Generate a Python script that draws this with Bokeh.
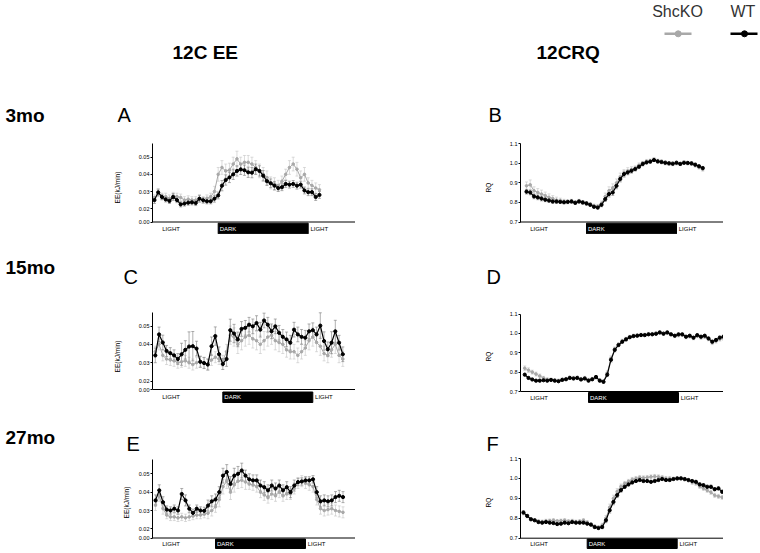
import numpy as np
from bokeh.plotting import figure
from bokeh.layouts import column, row
from bokeh.models import (Range1d, LinearAxis, FixedTicker, Whisker, TeeHead,
                          ColumnDataSource, Span, Label)
from bokeh.core.properties import value
from bokeh.embed import file_html
from bokeh.resources import INLINE

FONT = "Liberation Sans"

# ---------------- data (hours relative to lights-off; dark phase 0..12 h) ----------------
DARK_START, DARK_END = 0.0, 12.0
SERIES = ["ShcKO", "WT"]
EE_TICKS = [0.02, 0.03, 0.04, 0.05]
EE_TICK_LABELS = ["0.00", "0.02", "0.03", "0.04", "0.05"]
RQ_TICKS = [0.7, 0.8, 0.9, 1.0, 1.1]
RQ_TICK_LABELS = ["0.7", "0.8", "0.9", "1.0", "1.1"]

# Panel A: 3mo EE
t_A = np.arange(-8.5, 13.51, 0.5)
wt_A = [0.025, 0.0295, 0.0268, 0.0254, 0.0245, 0.0268, 0.025, 0.0225, 0.023, 0.0235,
        0.0237, 0.0233, 0.0258, 0.0249, 0.0243, 0.0243, 0.0258, 0.0277, 0.0334, 0.0367,
        0.0382, 0.040, 0.042, 0.0429, 0.0424, 0.0412, 0.041, 0.043, 0.042, 0.0392,
        0.036, 0.0348, 0.0334, 0.032, 0.0325, 0.0344, 0.034, 0.0344, 0.0334, 0.034,
        0.0306, 0.0296, 0.0296, 0.0268, 0.028]
ko_A = [0.026, 0.029, 0.027, 0.027, 0.026, 0.0275, 0.027, 0.0265, 0.025, 0.0255,
        0.025, 0.025, 0.026, 0.025, 0.026, 0.027, 0.030, 0.040, 0.044, 0.042,
        0.0425, 0.046, 0.049, 0.046, 0.047, 0.047, 0.046, 0.044, 0.042, 0.040,
        0.038, 0.035, 0.0345, 0.0335, 0.036, 0.040, 0.044, 0.046, 0.043, 0.038,
        0.040, 0.035, 0.0335, 0.032, 0.031]
wt_err_A = [0.002, 0.002, 0.0015, 0.0015, 0.0015, 0.002, 0.0015, 0.0015, 0.0015, 0.0015,
            0.0015, 0.0015, 0.002, 0.0015, 0.0015, 0.0015, 0.002, 0.002, 0.003, 0.003,
            0.003, 0.003, 0.003, 0.003, 0.003, 0.003, 0.003, 0.003, 0.003, 0.003,
            0.0025, 0.0025, 0.0025, 0.002, 0.002, 0.002, 0.002, 0.002, 0.002, 0.002,
            0.002, 0.002, 0.002, 0.002, 0.002]
ko_err_A = [0.002, 0.002, 0.002, 0.002, 0.002, 0.002, 0.002, 0.002, 0.002, 0.002,
            0.002, 0.002, 0.002, 0.002, 0.002, 0.002, 0.003, 0.004, 0.004, 0.004,
            0.004, 0.004, 0.0045, 0.004, 0.004, 0.004, 0.004, 0.004, 0.004, 0.004,
            0.004, 0.0035, 0.0035, 0.003, 0.003, 0.003, 0.004, 0.004, 0.004, 0.004,
            0.004, 0.003, 0.003, 0.003, 0.003]

# Panel B: 3mo RQ
t_B = np.arange(-8.0, 15.51, 0.5)
wt_B = [0.855, 0.851, 0.831, 0.826, 0.820, 0.814, 0.810, 0.805, 0.805, 0.803,
        0.801, 0.803, 0.805, 0.798, 0.805, 0.800, 0.795, 0.788, 0.778, 0.774,
        0.788, 0.817, 0.843, 0.851, 0.885, 0.920, 0.945, 0.954, 0.962, 0.971,
        0.983, 0.997, 1.005, 1.009, 1.017, 1.010, 1.007, 1.003, 1.000, 0.998,
        1.003, 0.997, 1.003, 1.002, 1.000, 0.993, 0.985, 0.976]
ko_B = [0.885, 0.890, 0.860, 0.851, 0.843, 0.835, 0.826, 0.820, 0.812, 0.810,
        0.806, 0.803, 0.806, 0.800, 0.806, 0.800, 0.795, 0.790, 0.782, 0.780,
        0.795, 0.830, 0.860, 0.875, 0.900, 0.930, 0.950, 0.960, 0.968, 0.975,
        0.990, 1.000, 1.010, 1.012, 1.020, 1.012, 1.008, 1.002, 1.000, 0.998,
        1.000, 0.998, 1.004, 1.000, 0.998, 0.990, 0.980, 0.970]
wt_err_B = [0.012, 0.012, 0.012, 0.012, 0.012, 0.010, 0.010, 0.010, 0.010, 0.008,
            0.008, 0.008, 0.008, 0.008, 0.008, 0.008, 0.008, 0.008, 0.008, 0.008,
            0.010, 0.012, 0.015, 0.015, 0.015, 0.015, 0.015, 0.012, 0.012, 0.010,
            0.010, 0.010, 0.008, 0.008, 0.008, 0.008, 0.008, 0.008, 0.008, 0.008,
            0.008, 0.008, 0.008, 0.008, 0.008, 0.008, 0.008, 0.008]
ko_err_B = [0.020, 0.025, 0.020, 0.020, 0.020, 0.018, 0.018, 0.015, 0.015, 0.012,
            0.010, 0.010, 0.010, 0.010, 0.010, 0.010, 0.010, 0.010, 0.010, 0.010,
            0.012, 0.018, 0.020, 0.020, 0.020, 0.020, 0.018, 0.018, 0.015, 0.012,
            0.012, 0.010, 0.010, 0.010, 0.010, 0.010, 0.010, 0.010, 0.010, 0.010,
            0.008, 0.008, 0.008, 0.008, 0.008, 0.010, 0.010, 0.010]

# Panel C: 15mo EE
t_C = np.arange(-9.0, 16.01, 0.5)
wt_C = [0.034, 0.0454, 0.041, 0.0364, 0.0352, 0.034, 0.032, 0.0346, 0.037, 0.0388,
        0.039, 0.0377, 0.0305, 0.0298, 0.029, 0.039, 0.0445, 0.0346, 0.0293, 0.032,
        0.0477, 0.0459, 0.0427, 0.0484, 0.049, 0.0507, 0.0498, 0.0516, 0.048, 0.053,
        0.0507, 0.0471, 0.0498, 0.0463, 0.0441, 0.0427, 0.0409, 0.048, 0.0454, 0.0441,
        0.0436, 0.0471, 0.0477, 0.0454, 0.0502, 0.0418, 0.0373, 0.0409, 0.0471, 0.0409,
        0.0346]
ko_C = [0.036, 0.040, 0.034, 0.032, 0.0315, 0.031, 0.030, 0.0305, 0.031, 0.030,
        0.029, 0.030, 0.0305, 0.030, 0.029, 0.0315, 0.033, 0.032, 0.031, 0.036,
        0.045, 0.044, 0.040, 0.042, 0.044, 0.045, 0.043, 0.042, 0.040, 0.042,
        0.044, 0.045, 0.042, 0.041, 0.040, 0.037, 0.036, 0.036, 0.034, 0.036,
        0.038, 0.042, 0.044, 0.041, 0.039, 0.035, 0.034, 0.037, 0.040, 0.034,
        0.032]
wt_err_C = [0.004, 0.004, 0.004, 0.003, 0.003, 0.003, 0.003, 0.006, 0.005, 0.008,
            0.008, 0.004, 0.003, 0.003, 0.003, 0.005, 0.005, 0.004, 0.003, 0.004,
            0.006, 0.005, 0.004, 0.004, 0.004, 0.004, 0.004, 0.004, 0.004, 0.004,
            0.004, 0.004, 0.004, 0.004, 0.004, 0.004, 0.004, 0.004, 0.004, 0.004,
            0.004, 0.004, 0.004, 0.004, 0.007, 0.005, 0.004, 0.006, 0.006, 0.004,
            0.004]
ko_err_C = [0.003, 0.003, 0.003, 0.003, 0.003, 0.003, 0.003, 0.003, 0.003, 0.003,
            0.003, 0.003, 0.003, 0.003, 0.003, 0.003, 0.003, 0.003, 0.003, 0.004,
            0.005, 0.005, 0.005, 0.005, 0.005, 0.005, 0.005, 0.005, 0.005, 0.005,
            0.005, 0.005, 0.005, 0.005, 0.005, 0.004, 0.004, 0.004, 0.004, 0.004,
            0.004, 0.005, 0.005, 0.005, 0.005, 0.004, 0.004, 0.004, 0.005, 0.004,
            0.004]

# Panel D: 15mo RQ
t_D = np.arange(-8.5, 18.01, 0.5)
wt_D = [0.787, 0.770, 0.762, 0.756, 0.756, 0.758, 0.756, 0.760, 0.756, 0.753,
        0.760, 0.763, 0.770, 0.767, 0.770, 0.762, 0.767, 0.756, 0.763, 0.775,
        0.756, 0.750, 0.787, 0.864, 0.915, 0.940, 0.957, 0.969, 0.980, 0.986,
        0.988, 0.991, 0.991, 0.995, 0.995, 0.998, 1.005, 0.998, 1.005, 0.995,
        0.988, 0.995, 0.995, 0.983, 0.988, 0.978, 0.991, 0.983, 0.988, 0.974,
        0.957, 0.966, 0.978, 0.983]
ko_D = [0.820, 0.810, 0.800, 0.790, 0.780, 0.770, 0.762, 0.760, 0.758, 0.756,
        0.762, 0.765, 0.772, 0.770, 0.772, 0.765, 0.770, 0.760, 0.765, 0.772,
        0.758, 0.752, 0.795, 0.870, 0.918, 0.942, 0.960, 0.972, 0.982, 0.988,
        0.990, 0.993, 0.993, 0.997, 0.997, 1.000, 1.003, 1.000, 1.002, 0.995,
        0.986, 0.990, 0.992, 0.980, 0.984, 0.975, 0.986, 0.978, 0.982, 0.970,
        0.952, 0.960, 0.970, 0.975]
wt_err_D = [0.006, 0.006, 0.006, 0.006, 0.006, 0.006, 0.006, 0.006, 0.006, 0.006,
            0.006, 0.006, 0.006, 0.006, 0.006, 0.006, 0.006, 0.006, 0.006, 0.006,
            0.006, 0.008, 0.010, 0.012, 0.010, 0.008, 0.008, 0.008, 0.006, 0.006,
            0.006, 0.006, 0.006, 0.006, 0.006, 0.006, 0.006, 0.006, 0.006, 0.006,
            0.006, 0.006, 0.006, 0.006, 0.006, 0.006, 0.006, 0.006, 0.006, 0.006,
            0.008, 0.008, 0.008, 0.008]
ko_err_D = [0.012, 0.012, 0.010, 0.010, 0.010, 0.008, 0.008, 0.008, 0.008, 0.008,
            0.008, 0.008, 0.008, 0.008, 0.008, 0.008, 0.008, 0.008, 0.008, 0.008,
            0.008, 0.008, 0.012, 0.014, 0.012, 0.010, 0.010, 0.008, 0.008, 0.008,
            0.008, 0.008, 0.008, 0.008, 0.008, 0.008, 0.008, 0.008, 0.008, 0.008,
            0.008, 0.008, 0.008, 0.008, 0.008, 0.008, 0.008, 0.008, 0.008, 0.008,
            0.010, 0.010, 0.010, 0.010]

# Panel E: 27mo EE
t_E = np.arange(-8.0, 17.01, 0.5)
wt_E = [0.0355, 0.041, 0.0345, 0.0305, 0.030, 0.031, 0.030, 0.039, 0.0355, 0.031,
        0.0287, 0.031, 0.030, 0.0298, 0.0327, 0.035, 0.036, 0.040, 0.049, 0.051,
        0.0445, 0.049, 0.050, 0.0518, 0.049, 0.047, 0.0464, 0.0464, 0.0436, 0.0427,
        0.041, 0.0436, 0.042, 0.0436, 0.041, 0.0427, 0.040, 0.0436, 0.0455, 0.0458,
        0.0464, 0.0464, 0.047, 0.040, 0.035, 0.0355, 0.035, 0.0355, 0.0373, 0.038,
        0.0373]
ko_E = [0.033, 0.038, 0.031, 0.0275, 0.0265, 0.0265, 0.026, 0.0265, 0.026, 0.0265,
        0.027, 0.0275, 0.0275, 0.028, 0.0285, 0.030, 0.032, 0.036, 0.043, 0.046,
        0.040, 0.044, 0.046, 0.0465, 0.0455, 0.0445, 0.044, 0.043, 0.040, 0.0385,
        0.037, 0.039, 0.038, 0.040, 0.038, 0.039, 0.039, 0.042, 0.045, 0.046,
        0.045, 0.044, 0.043, 0.036, 0.031, 0.030, 0.0305, 0.031, 0.030, 0.0295,
        0.029]
wt_err_E = [0.003, 0.003, 0.003, 0.002, 0.002, 0.002, 0.002, 0.003, 0.003, 0.002,
            0.002, 0.002, 0.002, 0.002, 0.003, 0.003, 0.003, 0.003, 0.004, 0.004,
            0.004, 0.004, 0.004, 0.004, 0.003, 0.003, 0.003, 0.003, 0.003, 0.003,
            0.003, 0.003, 0.003, 0.003, 0.003, 0.003, 0.003, 0.003, 0.002, 0.002,
            0.002, 0.002, 0.002, 0.003, 0.003, 0.003, 0.003, 0.003, 0.003, 0.003,
            0.003]
ko_err_E = [0.003, 0.003, 0.003, 0.002, 0.002, 0.002, 0.002, 0.002, 0.002, 0.002,
            0.002, 0.002, 0.002, 0.002, 0.003, 0.003, 0.003, 0.004, 0.004, 0.004,
            0.004, 0.004, 0.004, 0.004, 0.004, 0.003, 0.003, 0.003, 0.003, 0.003,
            0.003, 0.003, 0.003, 0.003, 0.003, 0.003, 0.003, 0.003, 0.003, 0.003,
            0.003, 0.003, 0.003, 0.003, 0.003, 0.003, 0.003, 0.003, 0.003, 0.003,
            0.003]

# Panel F: 27mo RQ
t_F = np.arange(-8.5, 18.01, 0.5)
wt_F = [0.829, 0.812, 0.795, 0.790, 0.781, 0.778, 0.781, 0.778, 0.776, 0.771,
        0.773, 0.778, 0.775, 0.781, 0.778, 0.778, 0.778, 0.773, 0.768, 0.756,
        0.751, 0.756, 0.790, 0.840, 0.882, 0.916, 0.941, 0.958, 0.970, 0.980,
        0.987, 0.992, 0.987, 0.987, 0.983, 0.987, 0.992, 0.997, 0.992, 0.992,
        0.997, 1.000, 1.000, 0.997, 0.992, 0.987, 0.983, 0.970, 0.966, 0.958,
        0.958, 0.946, 0.950, 0.933]
ko_F = [0.825, 0.810, 0.795, 0.790, 0.785, 0.783, 0.787, 0.788, 0.790, 0.786,
        0.788, 0.790, 0.785, 0.787, 0.783, 0.785, 0.790, 0.780, 0.770, 0.760,
        0.755, 0.765, 0.800, 0.855, 0.900, 0.935, 0.960, 0.975, 0.985, 0.995,
        1.000, 1.005, 1.003, 1.005, 1.008, 1.010, 1.008, 1.005, 1.000, 1.000,
        0.998, 1.000, 1.002, 0.995, 0.990, 0.980, 0.975, 0.960, 0.950, 0.940,
        0.930, 0.915, 0.910, 0.905]
wt_err_F = [0.008, 0.006, 0.006, 0.006, 0.006, 0.006, 0.006, 0.006, 0.006, 0.006,
            0.006, 0.006, 0.006, 0.006, 0.006, 0.006, 0.006, 0.006, 0.006, 0.006,
            0.006, 0.008, 0.012, 0.014, 0.014, 0.012, 0.010, 0.008, 0.008, 0.008,
            0.006, 0.006, 0.006, 0.006, 0.006, 0.006, 0.006, 0.006, 0.006, 0.006,
            0.006, 0.006, 0.006, 0.006, 0.006, 0.006, 0.006, 0.008, 0.008, 0.008,
            0.008, 0.008, 0.008, 0.008]
ko_err_F = [0.008, 0.008, 0.008, 0.008, 0.008, 0.008, 0.008, 0.008, 0.008, 0.008,
            0.008, 0.008, 0.008, 0.008, 0.008, 0.008, 0.008, 0.008, 0.008, 0.008,
            0.008, 0.010, 0.014, 0.016, 0.016, 0.014, 0.012, 0.010, 0.010, 0.010,
            0.010, 0.010, 0.010, 0.010, 0.010, 0.010, 0.010, 0.010, 0.010, 0.010,
            0.008, 0.008, 0.008, 0.008, 0.008, 0.010, 0.010, 0.010, 0.010, 0.010,
            0.010, 0.010, 0.010, 0.010]

# ---------------- style / layout ----------------
PAGE_W = 760
PX_PER_H = 7.5
FRAME_W = 203
WT_COLOR = "black"
KO_COLOR = "#a8a8a8"
WT_ERR = "#7a7a7a"
KO_ERR = "#c4c4c4"


def header(top, bottom, texts, legend=False):
    # y is measured downward on the page, so store it negated on a normal range
    p = figure(width=PAGE_W, height=bottom - top, x_range=Range1d(0, PAGE_W),
               y_range=Range1d(-bottom, -top), output_backend="svg",
               toolbar_location=None, min_border=0, x_axis_location=None,
               y_axis_location=None, outline_line_color=None)
    p.xgrid.visible = False
    p.ygrid.visible = False
    for (s, x, y, size, bold, color) in texts:
        p.add_layout(Label(x=x, y=-y, text=s, text_font=FONT, text_font_size=size,
                           text_font_style="bold" if bold else "normal",
                           text_color=color, text_baseline="middle",
                           text_align="left"))
    if legend:
        ly = -33.3
        p.segment(x0=[664], y0=[ly], x1=[691], y1=[ly], line_color=KO_COLOR, line_width=2.5)
        p.scatter(x=[677.7], y=[ly], size=6, marker="circle", color=KO_COLOR)
        p.segment(x0=[730], y0=[ly], x1=[757], y1=[ly], line_color=WT_COLOR, line_width=2.5)
        p.scatter(x=[744], y=[ly], size=6, marker="circle", color=WT_COLOR)
    return p


def panel(kind, canvas_left, axis_left, top, bottom, dark_px, v1, p1, v2, p2,
          axis_px, axis_top_px, bar_top, bar_bot, lab_standoff,
          t, wt, wt_err, ko, ko_err):
    border = int(round(axis_left - canvas_left))
    k = (v2 - v1) / (p2 - p1)

    def val(px):
        return v1 + (px - p1) * k

    x0 = -(dark_px - (canvas_left + border)) / PX_PER_H
    p = figure(width=border + FRAME_W, height=bottom - top,
               x_range=Range1d(x0, x0 + FRAME_W / PX_PER_H),
               y_range=Range1d(val(bottom), val(top)),
               output_backend="svg", toolbar_location=None,
               x_axis_location=None, y_axis_location=None,
               min_border=0, outline_line_color=None)
    p.min_border_left = border
    p.xgrid.visible = False
    p.ygrid.visible = False

    brk = val(axis_px)
    if kind == "EE":
        ticks = [brk] + EE_TICKS
        labels = EE_TICK_LABELS
        ylab = "EE(kJ/min)"
    else:
        ticks = RQ_TICKS
        labels = RQ_TICK_LABELS
        ylab = "RQ"
    ax = LinearAxis(ticker=FixedTicker(ticks=ticks),
                    major_label_overrides={tk: lb for tk, lb in zip(ticks, labels)},
                    bounds=(brk, val(axis_top_px)), axis_label=ylab)
    ax.axis_line_color = "black"
    ax.axis_line_width = 1
    ax.major_tick_out = 2
    ax.major_tick_in = 0
    ax.minor_tick_out = 0
    ax.minor_tick_in = 0
    ax.major_tick_line_width = 1
    ax.major_label_standoff = 1
    ax.major_label_text_font = FONT
    ax.major_label_text_font_size = "5.5px"
    ax.major_label_text_color = "black"
    ax.axis_label_text_font = FONT
    ax.axis_label_text_font_size = "6.5px"
    ax.axis_label_text_font_style = "normal"
    ax.axis_label_text_color = "black"
    ax.axis_label_standoff = lab_standoff
    p.add_layout(ax, "left")

    p.add_layout(Span(location=brk, dimension="width", line_color="black", line_width=1))

    # light / dark bar
    yb0, yb1 = val(bar_bot), val(bar_top)
    p.quad(left=[DARK_START], right=[DARK_END], bottom=[yb0], top=[yb1],
           fill_color="black", line_color="black")
    ymid = (yb0 + yb1) / 2
    for xx, s, c in [(x0 + 1.3, "LIGHT", "black"), (DARK_START + 0.2, "DARK", "white"),
                     (DARK_END + 0.3, "LIGHT", "black")]:
        p.text(x=[xx], y=[ymid], text=[s], text_font=value(FONT), text_font_size="6px",
               text_color=c, text_baseline="middle", text_align="left")

    for ys, es, col, ecol, lw, ms in [(ko, ko_err, KO_COLOR, KO_ERR, 1.0, 2.6),
                                      (wt, wt_err, WT_COLOR, WT_ERR, 1.2, 3.2)]:
        n = min(len(t), len(ys), len(es))
        tt = [float(v) for v in t[:n]]
        yy = list(ys[:n])
        ee = list(es[:n])
        src = ColumnDataSource(dict(t=tt, y=yy,
                                    u=[a + b for a, b in zip(yy, ee)],
                                    l=[a - b for a, b in zip(yy, ee)]))
        w = Whisker(base="t", upper="u", lower="l", source=src,
                    line_color=ecol, line_width=0.6,
                    upper_head=TeeHead(size=3, line_color=ecol, line_width=0.6),
                    lower_head=TeeHead(size=3, line_color=ecol, line_width=0.6))
        p.add_layout(w)
        p.line(x="t", y="y", source=src, line_color=col, line_width=lw)
        p.scatter(x="t", y="y", source=src, marker="circle", size=ms,
                  fill_color=col, line_color=col)
    return p


h1 = header(0, 140, [
    ("ShcKO", 651.7, 10.7, "16px", False, "#333333"),
    ("WT", 730, 10.7, "16px", False, "#333333"),
    ("12C EE", 172, 51.5, "19px", True, "black"),
    ("12CRQ", 536, 51.5, "19px", True, "black"),
    ("3mo", 5, 114.5, "19px", True, "black"),
    ("A", 117, 114.7, "20px", False, "black"),
    ("B", 488, 114.7, "20px", False, "black"),
], legend=True)

pA = panel("EE", 0, 152, 140, 234, 217.7, 0.05, 156.7, 0.03, 191.0,
           221.5, 143.3, 222.7, 233.3, 15, t_A, wt_A, wt_err_A, ko_A, ko_err_A)
pB = panel("RQ", 355, 520, 140, 234, 586.0, 1.1, 143.3, 0.7, 221.5,
           221.5, 143.3, 222.7, 233.3, 15, t_B, wt_B, wt_err_B, ko_B, ko_err_B)

h2 = header(234, 309, [
    ("15mo", 5, 266.5, "19px", True, "black"),
    ("C", 123, 276.7, "20px", False, "black"),
    ("D", 486, 276.7, "20px", False, "black"),
])

pC = panel("EE", 0, 152, 309, 403, 222.3, 0.05, 325.5, 0.03, 362.2,
           389.0, 311.7, 391.5, 402.0, 15, t_C, wt_C, wt_err_C, ko_C, ko_err_C)
pD = panel("RQ", 355, 520, 309, 403, 588.0, 1.1, 313.5, 0.7, 391.0,
           391.0, 313.5, 392.0, 402.0, 15, t_D, wt_D, wt_err_D, ko_D, ko_err_D)

h3 = header(403, 455, [
    ("27mo", 5, 437, "19px", True, "black"),
    ("E", 126, 443, "20px", False, "black"),
    ("F", 486, 443, "20px", False, "black"),
])

pE = panel("EE", 0, 152, 455, 549, 215.0, 0.05, 473.3, 0.03, 510.0,
           537.5, 459.3, 538.5, 548.0, 6, t_E, wt_E, wt_err_E, ko_E, ko_err_E)
pF = panel("RQ", 355, 520, 455, 549, 586.7, 1.1, 458.0, 0.7, 537.7,
           537.7, 458.0, 538.5, 548.0, 15, t_F, wt_F, wt_err_F, ko_F, ko_err_F)

layout = column(h1, row(pA, pB), h2, row(pC, pD), h3, row(pE, pF))

open("out.html", "w").write(file_html(layout, INLINE))
